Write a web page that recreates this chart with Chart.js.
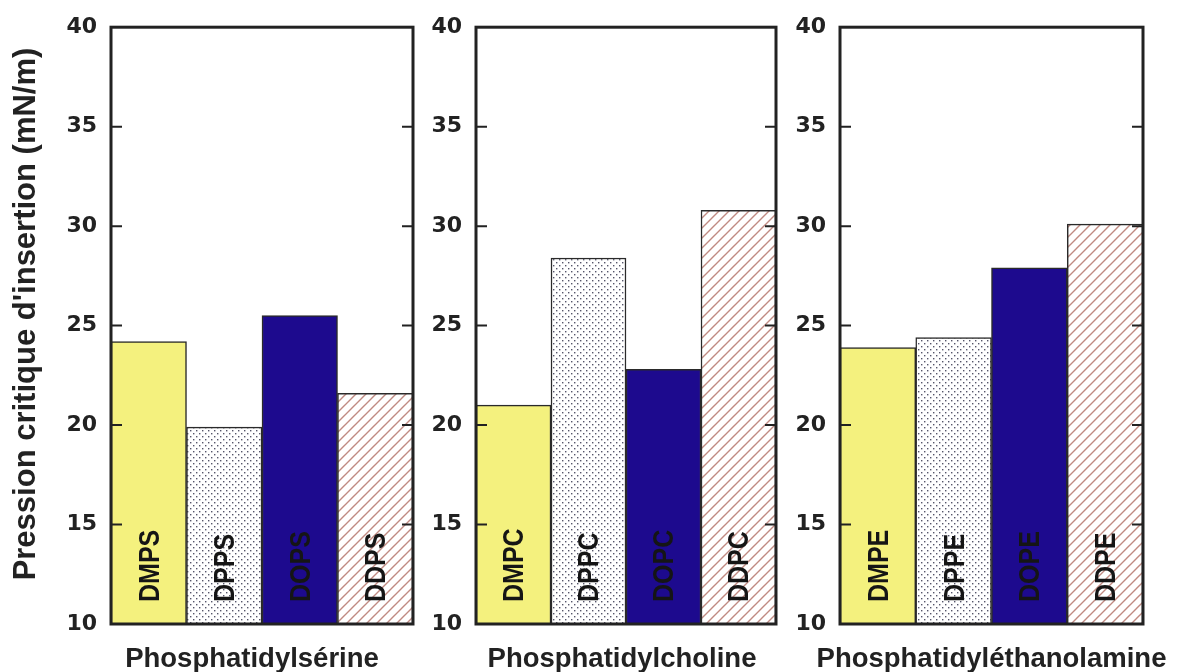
<!DOCTYPE html>
<html lang="fr">
<head>
<meta charset="UTF-8">
<title>Pression critique d'insertion</title>
<script src="https://cdn.jsdelivr.net/npm/chart.js"></script>
<style>
    html, body { margin: 0; padding: 0; background: #fff; }
    #page { position: relative; width: 1181px; height: 672px; overflow: hidden; }
    .panneau { position: absolute; top: 0; height: 672px; }
</style>
</head>
<body>
<div id="page">
    <div class="panneau" style="left:0; width:420px;"><canvas id="g1"></canvas></div>
    <div class="panneau" style="left:420px; width:365px;"><canvas id="g2"></canvas></div>
    <div class="panneau" style="left:785px; width:396px;"><canvas id="g3"></canvas></div>
</div>

<script>
// Données : pression critique d'insertion (mN/m) par phospholipide
const lipidesPS = ['DMPS', 'DPPS', 'DOPS', 'DDPS'];
const pressionPS = [24.2, 19.9, 25.5, 21.6];

const lipidesPC = ['DMPC', 'DPPC', 'DOPC', 'DDPC'];
const pressionPC = [21.0, 28.4, 22.8, 30.8];

const lipidesPE = ['DMPE', 'DPPE', 'DOPE', 'DDPE'];
const pressionPE = [23.9, 24.4, 27.9, 30.1];

const familles = ['Phosphatidylsérine', 'Phosphatidylcholine', 'Phosphatidyléthanolamine'];
const graduations = [10, 15, 20, 25, 30, 35, 40];
const titreAxe = "Pression critique d'insertion (mN/m)";

const policeChiffres = '"DejaVu Sans", sans-serif';
const policeTexte = '"Liberation Sans", Arial, sans-serif';

// Motifs de remplissage : pointillé et hachures
function motifPoints() {
    const c = document.createElement('canvas');
    c.width = 6; c.height = 6;
    const x = c.getContext('2d');
    x.fillStyle = '#fff';
    x.fillRect(0, 0, 6, 6);
    x.fillStyle = '#55556a';
    x.fillRect(1, 1, 1.4, 1.4);
    x.fillRect(4, 4, 1.4, 1.4);
    return x.createPattern(c, 'repeat');
}

function motifHachures() {
    const c = document.createElement('canvas');
    c.width = 10; c.height = 10;
    const x = c.getContext('2d');
    x.fillStyle = '#fff';
    x.fillRect(0, 0, 10, 10);
    x.strokeStyle = '#c08a82';
    x.lineWidth = 1.4;
    x.beginPath();
    x.moveTo(0, 10); x.lineTo(10, 0);
    x.moveTo(-5, 5); x.lineTo(5, -5);
    x.moveTo(5, 15); x.lineTo(15, 5);
    x.stroke();
    return x.createPattern(c, 'repeat');
}

const remplissages = ['#f4f17e', motifPoints(), '#1d0a8e', motifHachures()];

// Noms des barres, cadre, graduations intérieures et titres
const decor = {
    id: 'decor',
    afterDraw(chart, args, opts) {
        const { ctx, chartArea: a, scales: { x, y } } = chart;
        ctx.save();

        // nom du lipide écrit verticalement en bas de chaque barre
        ctx.font = 'bold 25px ' + policeTexte;
        ctx.fillStyle = '#151515';
        ctx.textAlign = 'left';
        ctx.textBaseline = 'middle';
        chart.data.labels.forEach((nom, i) => {
            ctx.save();
            ctx.translate(x.getPixelForValue(i) + 2, y.getPixelForValue(y.min) - 22);
            ctx.rotate(-Math.PI / 2);
            ctx.scale(1, 1.15);
            ctx.fillText(nom, 0, 0);
            ctx.restore();
        });

        // graduations vers l'intérieur, des deux côtés
        ctx.strokeStyle = '#222';
        ctx.lineWidth = 2;
        ctx.beginPath();
        y.ticks.forEach(t => {
            if (t.value === y.min || t.value === y.max) return;
            const py = y.getPixelForValue(t.value);
            ctx.moveTo(a.left, py); ctx.lineTo(a.left + 11, py);
            ctx.moveTo(a.right, py); ctx.lineTo(a.right - 11, py);
        });
        ctx.stroke();

        // cadre
        ctx.lineWidth = 3;
        ctx.strokeRect(a.left, a.top, a.right - a.left, a.bottom - a.top);

        // famille de lipides sous le panneau
        ctx.font = 'bold 27.5px ' + policeTexte;
        ctx.fillStyle = '#222';
        ctx.textAlign = 'center';
        ctx.textBaseline = 'alphabetic';
        ctx.fillText(opts.famille, (a.left + a.right) / 2 + opts.decalage, 667);

        // titre de l'axe vertical
        if (opts.titreAxe) {
            ctx.save();
            ctx.translate(35, 314);
            ctx.rotate(-Math.PI / 2);
            ctx.font = 'bold 31px ' + policeTexte;
            ctx.textAlign = 'center';
            ctx.fillText(opts.titreAxe, 0, 0);
            ctx.restore();
        }
        ctx.restore();
    }
};

function creerPanneau(id, lipides, pressions, famille, decalage, largeurAxe, marges, avecTitre) {
    return new Chart(document.getElementById(id), {
        type: 'bar',
        data: {
            labels: lipides,
            datasets: [{
                data: pressions,
                backgroundColor: remplissages,
                borderColor: '#2a2a2a',
                borderWidth: 1.5,
                borderSkipped: 'bottom',
                categoryPercentage: 1,
                barPercentage: 1
            }]
        },
        options: {
            responsive: true,
            maintainAspectRatio: false,
            animation: false,
            layout: { padding: { top: marges.haut, right: marges.droite, left: 0, bottom: 48 } },
            plugins: {
                legend: { display: false },
                tooltip: { enabled: false },
                decor: { famille: famille, decalage: decalage, titreAxe: avecTitre ? titreAxe : '' }
            },
            scales: {
                x: { display: false },
                y: {
                    min: 10,
                    max: 40,
                    afterBuildTicks: s => { s.ticks = graduations.map(v => ({ value: v })); },
                    afterFit: s => { s.width = largeurAxe; },
                    ticks: {
                        padding: 14,
                        color: '#222',
                        font: { family: policeChiffres, size: 22, weight: 'bold' }
                    },
                    grid: { display: false, drawTicks: false },
                    border: { display: false }
                }
            }
        },
        plugins: [decor]
    });
}

creerPanneau('g1', lipidesPS, pressionPS, familles[0], -10, 111, { haut: 24, droite: 7 }, true);
creerPanneau('g2', lipidesPC, pressionPC, familles[1], -4, 56, { haut: 23, droite: 9 }, false);
creerPanneau('g3', lipidesPE, pressionPE, familles[2], 0, 55, { haut: 26, droite: 38 }, false);
</script>
</body>
</html>
